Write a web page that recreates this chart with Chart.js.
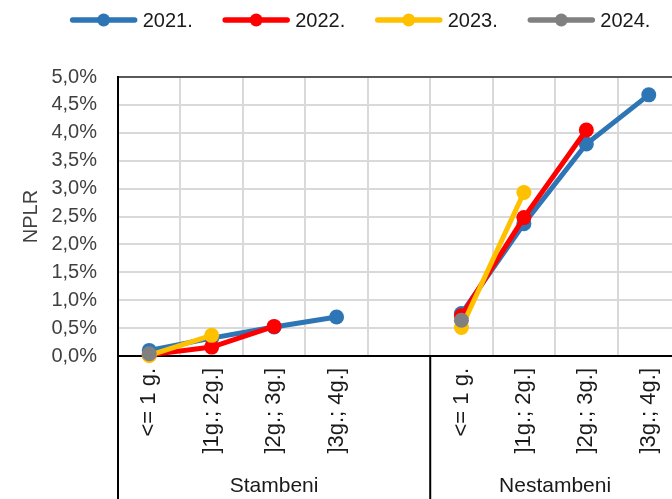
<!DOCTYPE html>
<html>
<head>
<meta charset="utf-8">
<script src="https://cdn.jsdelivr.net/npm/chart.js@4.4.0/dist/chart.umd.min.js"></script>
<style>
html, body { margin: 0; padding: 0; background: #fff; overflow: hidden; }
</style>
</head>
<body>
<canvas id="nplrChart" width="720" height="499"></canvas>
<script>
// categories on x (empty slot separates the two groups)
const categories = ['<= 1 g.', ']1g.; 2g.]', ']2g.; 3g.]', ']3g.; 4g.]', '',
                    '<= 1 g.', ']1g.; 2g.]', ']2g.; 3g.]', ']3g.; 4g.]'];
const groupNames = ['Stambeni', 'Nestambeni'];
const groupFirst = [0, 5];
const groupLast = [4, 8];

const years = ['2021.', '2022.', '2023.', '2024.'];
const colors = ['#2e75b6', '#ff0000', '#ffc000', '#808080'];

// NPLR in %
const npl2021 = [0.10, 0.32, 0.52, 0.70, null, 0.76, 2.37, 3.80, 4.68];
const npl2022 = [0.02, 0.16, 0.53, null, null, 0.72, 2.48, 4.05, null];
const npl2023 = [0.01, 0.37, null, null, null, 0.51, 2.93, null, null];
const npl2024 = [0.04, null, null, null, null, 0.64, null, null, null];

const yTicks = [0, 0.5, 1, 1.5, 2, 2.5, 3, 3.5, 4, 4.5, 5];

const FONT = '"Liberation Sans", Arial, sans-serif';

const groupAxis = {
    id: 'groupAxis',
    afterDraw(chart) {
        const { ctx, scales: { x } } = chart;
        const half = (x.getPixelForValue(1) - x.getPixelForValue(0)) / 2;
        ctx.save();
        ctx.strokeStyle = '#000';
        ctx.lineWidth = 2;
        const edges = [x.getPixelForValue(0) - half, x.getPixelForValue(4) + half, x.getPixelForValue(8) + half];
        edges.forEach(e => {
            ctx.beginPath();
            ctx.moveTo(e, x.top);
            ctx.lineTo(e, chart.height);
            ctx.stroke();
        });
        ctx.font = '21px ' + FONT;
        ctx.fillStyle = '#1a1a1a';
        ctx.textAlign = 'center';
        ctx.textBaseline = 'middle';
        groupNames.forEach((g, i) => {
            const cx = (x.getPixelForValue(groupFirst[i]) + x.getPixelForValue(groupLast[i])) / 2;
            ctx.fillText(g, cx, x.bottom - 13);
        });
        ctx.restore();
    }
};

const lineLegend = {
    id: 'lineLegend',
    afterDraw(chart) {
        const { ctx } = chart;
        ctx.save();
        ctx.font = '20px ' + FONT;
        const lineLen = 68, gapText = 5, gapItem = 29.5, y = 20;
        const sets = chart.data.datasets;
        const widths = sets.map(ds => lineLen + gapText + ctx.measureText(ds.label).width);
        const total = widths.reduce((a, b) => a + b, 0) + gapItem * (widths.length - 1);
        let xPos = (chart.width - total) / 2;
        sets.forEach((ds, i) => {
            ctx.strokeStyle = ds.borderColor;
            ctx.lineWidth = 5.5;
            ctx.lineCap = 'round';
            ctx.beginPath();
            ctx.moveTo(xPos + 3, y);
            ctx.lineTo(xPos + lineLen - 3, y);
            ctx.stroke();
            ctx.fillStyle = ds.borderColor;
            ctx.beginPath();
            ctx.arc(xPos + lineLen / 2, y, 6.5, 0, Math.PI * 2);
            ctx.fill();
            ctx.fillStyle = '#1a1a1a';
            ctx.textAlign = 'left';
            ctx.textBaseline = 'middle';
            ctx.fillText(ds.label, xPos + lineLen + gapText, y + 1);
            xPos += widths[i] + gapItem;
        });
        ctx.restore();
    }
};

const series = [npl2021, npl2022, npl2023, npl2024];

new Chart(document.getElementById('nplrChart'), {
    type: 'line',
    data: {
        labels: categories,
        datasets: series.map((vals, i) => ({
            label: years[i],
            data: vals,
            borderColor: colors[i],
            backgroundColor: colors[i],
            borderWidth: 5,
            pointRadius: 7.5,
            pointHoverRadius: 7.5,
            pointBorderWidth: 0,
            spanGaps: false,
            clip: false,
            order: series.length - i
        }))
    },
    options: {
        responsive: false,
        animation: false,
        layout: {
            padding: { top: 77, left: 15, right: 40, bottom: 0 }
        },
        plugins: {
            legend: { display: false },
            tooltip: { enabled: false }
        },
        scales: {
            x: {
                offset: true,
                grid: {
                    offset: true,
                    color: '#d9d9d9',
                    lineWidth: 2,
                    drawTicks: false
                },
                border: { color: '#000', width: 2 },
                ticks: {
                    autoSkip: false,
                    minRotation: 90,
                    maxRotation: 90,
                    padding: 12,
                    color: '#1a1a1a',
                    font: { size: 22, family: FONT }
                },
                afterFit(scale) { scale.height = 143; }
            },
            y: {
                min: 0,
                max: 5,
                afterBuildTicks(scale) { scale.ticks = yTicks.map(v => ({ value: v })); },
                grid: {
                    color: ctx => ctx.tick && ctx.tick.value === 5 ? '#595959' : '#d9d9d9',
                    lineWidth: 2,
                    drawTicks: false
                },
                border: { color: '#000', width: 2 },
                ticks: {
                    padding: 21,
                    color: '#404040',
                    font: { size: 20, family: FONT },
                    callback: v => v.toFixed(1).replace('.', ',') + '%'
                },
                title: {
                    display: true,
                    text: 'NPLR',
                    color: '#404040',
                    font: { size: 20, family: FONT }
                },
                afterFit(scale) { scale.width = 103; }
            }
        }
    },
    plugins: [groupAxis, lineLegend]
});
</script>
</body>
</html>
